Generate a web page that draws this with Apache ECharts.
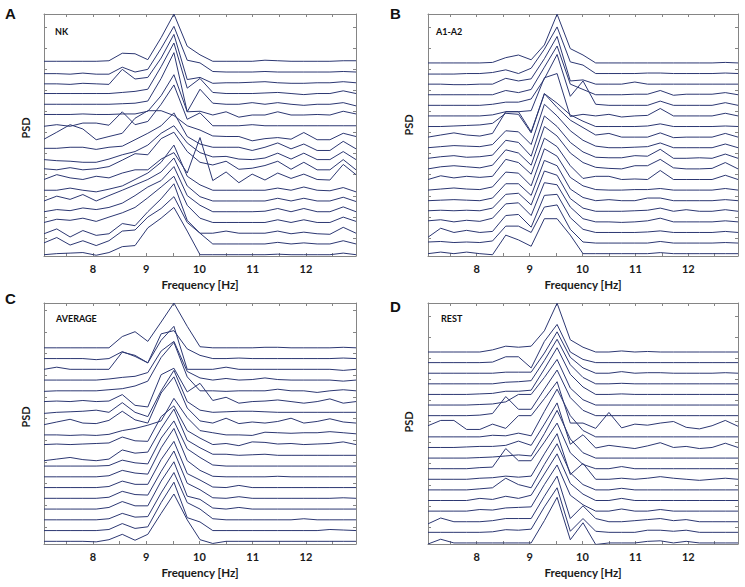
<!DOCTYPE html>
<html><head><meta charset="utf-8">
<script src="https://cdn.jsdelivr.net/npm/echarts@6/dist/echarts.min.js"></script>
<style>html,body{margin:0;padding:0;background:#fff}#chart{width:745px;height:587px}</style>
</head><body><div id="chart"></div>
<script>
// Frequency grid (Hz)
const freqs = [7.08, 7.32, 7.57, 7.81, 8.06, 8.30, 8.55, 8.79, 9.03, 9.28, 9.52, 9.77, 10.01, 10.25, 10.50, 10.74, 10.99, 11.23, 11.47, 11.72, 11.96, 12.21, 12.45, 12.70, 12.94];
const freqTicks = [7.5, 8, 8.5, 9, 9.5, 10, 10.5, 11, 11.5, 12, 12.5];
const freqLabels = [8, 9, 10, 11, 12];
const panelLetters = ['A', 'B', 'C', 'D'];
const panelNames = ['NK', 'A1-A2', 'AVERAGE', 'REST'];

// PSD traces, top trace first (values relative to each trace's own baseline, in trace-spacing units)
const nkLines = [
  [0,0,0,0,0,0.05,0.75,0.7,0.15,2.2,4.4,1.4,0.6,0,0,0,0,0.1,0.05,0,0,0,0,0.05,0.05],
  [-0.15,-0.15,-0.2,-0.1,-0.2,-0.2,0.45,0,0.25,2.2,4.25,1.1,0.85,0.05,0,0,0,0.05,0,0,0,0,0,0.05,0],
  [-0.1,-0.1,-0.15,-0.05,-0.1,-0.15,1.25,0.35,0.5,2.3,4.5,0.3,0.5,-0.05,0,0,0.05,0.1,0,-0.05,-0.05,0,0,0.1,0],
  [0,0,0,0,0,0,0.1,0.2,0.4,2.5,4.7,0.5,1.4,0.1,0,0,0,0.05,0.1,0,-0.1,0,0,0.25,0],
  [0,0,0,0,0,0,0.05,0.1,0.3,2.4,4.8,-0.7,1.4,0.1,0,0,0.15,0,0.15,0,-0.1,0,0,0.15,-0.15],
  [0.05,0.05,0.05,0.1,0.05,0.05,0.1,0.1,0.35,1.8,3.75,0.3,0.35,0,0.3,-0.2,0,0,0.3,0,0,0.05,0,0.35,0.1],
  [-0.05,0.1,-0.05,0.25,0.25,0.05,1.3,0.1,0.4,2.0,3.8,0.6,1.2,0,0,0,0.1,0,0,0,0,0,0,0,0],
  [-0.25,0.4,1.1,0.7,-0.3,0,0.3,1.7,2.4,2.4,1.95,1.0,0.6,0.05,0,0,-0.4,-0.2,-0.1,-0.25,0.37,-0.3,-0.3,0.3,0],
  [-0.1,-0.1,0,0,-0.2,0,0.1,0.7,1.3,2.0,3.2,1.0,0.3,0,0,0,-0.3,0,0.4,-0.15,0.3,-0.3,-0.3,0.55,-0.15],
  [-0.15,-0.25,-0.3,-0.4,-0.4,-0.1,0.3,0.6,1.2,2.3,3.0,1.4,0.5,0.1,0.15,-0.1,-0.15,0,0.45,-0.1,0.45,-0.15,-0.15,0.6,-0.15],
  [0,-0.1,0.1,-0.1,0,0.2,0.8,1.4,1.3,2.8,3.4,1.6,0.6,0.35,0.7,-0.05,0.05,0.3,0.7,-0.05,0.6,-0.1,-0.1,0.85,-0.1],
  [0,0.45,0.15,0,0.3,0.15,0.6,0.9,0.9,1.9,2.5,0.6,3.9,-0.1,0.7,-0.3,0.5,-0.05,0.6,0.1,0.5,0,-0.05,1.4,0.45],
  [0,0,0.2,0,-0.15,0.1,0.4,1.0,1.6,2.6,4.2,1.3,0.5,0,0,0,0,0,0.2,0,0.3,0,-0.05,0.25,-0.15],
  [0,0.45,0.15,0.6,0,0.5,1.0,1.5,2.0,2.7,4.0,1.4,0.4,0,0,0,0,0,0.25,0,0.25,0,0,0.35,-0.05],
  [0,0.2,0.1,0.35,0.2,0.4,0.8,1.5,2.3,2.9,4.2,1.5,0.6,0,0,0,0,0.05,0.3,0,0.3,0,0,0.45,0],
  [0,0.3,0.2,0.4,0.1,0.5,0.9,1.4,2.3,3.3,4.3,1.6,0.4,0,0,0,0,0,0.25,0,0.25,0,0,0.5,0.1],
  [-0.05,0.4,-0.35,0.25,-0.2,-0.05,0.9,0.7,2.0,3.2,4.6,1.2,0,0,0.2,0,0,0,0.2,-0.05,0.1,-0.05,-0.1,0.55,0],
  [0.1,0.6,-0.1,0.3,-0.15,0.3,1.2,1.3,2.5,3.3,4.4,2.0,1.0,0,0,0,0,0,0.15,0,0.1,0,0,0.3,0],
  [0,0.1,0.15,0.2,-0.05,0.2,0.75,0.85,2.5,3.4,4.4,2.2,0,0,0,0,0,0,0.05,0,0,0,0,0.15,0]
];
const a1a2Lines = [
  [0,0,0,0,0,0.05,0.5,0.75,0.3,1.7,4.6,1.35,0.75,0,0,0,0,0,0,0,0,0,0,0.05,0],
  [-0.05,-0.05,-0.05,0,0,0.1,0.35,0,0.5,2.3,4.4,1.1,0.8,0,0,0,0,0.05,0.05,0,0,0,0,0.05,0],
  [0,0,-0.05,-0.05,0,0,0.55,0.3,0.5,2.4,4.5,0.3,0.4,0,0,0,0.2,0,0,0,0,0,0,0,0],
  [0,0,0,0,0,0,0.4,0.2,0.5,2.6,4.6,1.0,0.5,0,0,0,0.05,0.05,0.4,-0.05,0.05,0.05,0.05,0.2,0],
  [0,0,0,0,0,0.1,0.3,0.3,0.6,2.5,4.8,0.85,2.3,0.1,0,0,0,0,0.4,0,0,0,0,0.25,0],
  [0,0,0,0,0,0.1,0.4,0.4,0.5,3.6,4.0,-0.05,0.15,0,0.15,-0.1,0,0.05,0.7,0,0,0,0,0.25,0],
  [0,0,0.05,0.1,0.15,0.3,1.25,1.15,-0.6,3.1,2.2,1.1,0.5,0,0,0,0,0.05,0.25,0,0,0,0,0.05,0],
  [0,0.2,0.4,0.2,0.1,0.35,2.4,2.4,0.5,4.1,2.8,1.6,0.9,0.2,0.35,0,0,0,0.4,-0.05,0,0,0,0.35,0],
  [0,0.1,0.2,0.15,0.1,0.3,1.6,1.5,0.3,4.1,3.0,1.6,0.7,0.15,0,0,0.05,0.1,0.45,0,0,0,0,0.35,0],
  [0,0.15,0.25,0.1,0.15,0.3,1.7,1.5,0.2,4.0,3.0,1.5,0.6,0.1,0.05,0.05,0.25,0.2,0.85,0,0,0.05,0,0.4,0],
  [0,0.2,0.3,0.2,0.1,0.35,1.8,1.5,0.35,4.0,3.1,1.5,0.6,0.15,0.05,0,0.3,0.3,0.9,0.1,0,0,0.05,0.6,0],
  [0,0.35,0.15,0.3,0.2,0.3,1.9,1.6,0.5,3.9,3.1,1.3,0.1,0.3,0.3,0,0.05,0,0.85,0,0,0,0,0.4,0],
  [0,0.1,0.2,0.1,0.05,0.3,1.7,1.6,0.4,3.9,3.2,1.2,0.4,0.05,0,0,0.05,0.05,0.15,0,0,0,0,0.15,0],
  [0,0.05,0.1,0.05,0,0.25,1.6,1.6,0.5,3.8,3.3,1.1,0.3,0,0.1,0,0,0.25,0.25,0,0,0,0,0.1,0],
  [0.05,0.1,0.05,0.1,0.05,0.3,1.6,1.7,0.6,3.8,3.4,1.2,0.3,0,0,0,0.05,0.1,0.3,0,0.15,0,0,0.15,0],
  [0.1,0.2,0,0.15,0.05,0.35,1.7,1.8,0.6,3.7,3.5,1.4,0.3,0,0,-0.05,0,0.1,0.35,0,0,0,0,0.1,0],
  [-0.45,0.4,0,0.2,0,0.1,1.6,1.7,0.5,3.5,3.6,1.4,0.3,0,0,0,0,0.05,0.15,0,0,0,0,0.1,0],
  [0.1,0.15,0.05,0.1,0.05,0.2,1.6,1.6,1.0,3.4,3.6,1.3,0.1,0,0,0,0,0,0.15,0,0,0,0,0.05,0],
  [0,0.15,0,0.15,0,-0.1,1.75,1.3,0.7,3.3,3.3,1.75,0,0,0,0,0,0,0.1,0,0,0,0,0,0]
];
const averageLines = [
  [0,0,0,0,0,0,1.05,1.5,0.6,2.4,4.17,2.0,0.1,0,0,0,0,0.05,0.05,0,0,0,0,0.05,0],
  [0,0,0,0,-0.1,0,0.65,0.2,-0.4,2.3,2.6,0.9,0.3,0,0,0.05,0,0,0,0,0,0,0,0.05,0],
  [0,0.2,0,0,0,0,1.6,1.3,0.6,2.7,4.0,0.0,0,0,0.2,0,0,0,0,0,0,0,0,-0.1,0],
  [0,0,0,0,0,0.1,0.25,0.35,0.7,2.7,3.6,0.8,0.2,0,0.15,0,0.05,0.2,0.05,0,0,0,0,-0.1,0],
  [-0.05,0,0,0,0,0.1,0.2,0.45,0.9,3.1,4.5,1.3,0,0,-0.05,0,0,0,0.15,0,0,-0.15,0,0.1,0],
  [0,0.05,0,0.1,0,0.05,0.65,-0.35,-0.5,2.5,3.1,0.9,1.7,0.1,0.4,-0.15,0,0.05,0.15,0,-0.15,0,0.25,-0.15,0],
  [-0.1,0,0.05,0.1,0.2,0,0.9,0,-0.4,2.0,3.9,1.0,0.2,0,0.05,0.1,0.1,0.05,0,0,0,0,0,0,0],
  [-0.15,0.1,0.35,0,-0.05,0.25,1.1,0.3,0,2.8,4.3,1.4,0.2,0,0.45,-0.05,0.1,0,0.15,0.45,0,0.15,0.4,0.1,0],
  [-0.1,-0.1,-0.15,-0.1,-0.15,-0.05,0.3,0.5,0.8,1.2,3.3,1.5,0.3,0.1,-0.1,-0.1,-0.15,0.15,0.1,0.05,0.1,0.1,0.2,0.1,0],
  [0,0.05,0,0.05,0.1,0.15,0.7,0.35,0.3,2.6,3.6,1.3,0.6,0,0.1,-0.1,0.25,0.2,0.05,0.1,0,0.05,0.1,0.25,0],
  [-0.5,-0.35,-0.2,-0.4,-0.5,-0.35,0.5,0.2,0.3,2.5,4.3,1.4,0.7,0.1,0.1,0,0.05,0.1,0,0,0,0,0,0,0],
  [0,0,0,0,0,0.05,0.55,0.3,0.2,2.6,4.2,1.6,0.8,0.1,0,0,0,0,0,0,0,0,0,0,0],
  [0,0,0,0,0,0.1,0.6,0.35,0.25,2.7,4.5,1.5,0.6,0.05,0,0,0,0,0.05,0,0,0,0,0,0],
  [0,0,0,0,0,0.1,0.6,0.3,0.3,2.6,4.3,1.3,0.7,0.05,0,0.2,0,0,0,0,0,0,0,0,0],
  [0,0,0,0,0,0.1,0.65,0.35,0.3,2.5,4.4,1.4,0.8,0.05,0,0.15,0,0,0,0,0,0,0,0.05,0],
  [0,0,0,0,0,0.15,0.7,0.3,0.3,2.6,4.4,1.2,0.9,0.1,0,0.15,0,0,0,0,0,0,0,0,0],
  [0,0,0,0,0,0.1,0.6,0.25,0.3,2.5,4.4,1.6,1.0,0.1,0,0,0,0,0,0,0.1,0,0,0,0],
  [0,0,0,0,0,0.1,0.65,0.2,0.35,2.6,4.5,1.2,0.8,0,0,0,0,0,0,0,0,0,0.1,0.05,0],
  [0,0,0,0,-0.05,0.15,0.65,0.1,0.65,2.6,4.4,2.0,0.15,-0.2,0,0,0,0,0,0,0,0,0,0,0]
];
const restLines = [
  [0,0,0,0,0,0.2,0.55,0.45,0.55,2.0,4.6,1.15,0.45,0,0,0.1,0,0.05,0,0,0,0,0,0,0],
  [0,0,0,0,0,0.05,0.55,0.55,-0.5,2.0,3.6,1.0,0.3,0,0,0,0,0,0,0,0,0,0,0,0],
  [0,0,0,0,0,0,0.1,0.1,0.1,1.9,3.9,1.5,0.5,0,0,0.15,0,0.05,0.05,0,0,0,0,0.05,0],
  [0,0,0,0,0,0,0.15,0.2,0.3,2.2,4.2,1.8,0.6,0,0,0.05,0,0,0,0,0,0,0,0,0],
  [0,0,0,0,0.05,0.1,0.3,0.3,0.4,2.4,4.4,1.9,0.7,0,0,0.05,0,0,0,0,0,0,0,0,0],
  [0,0,0,0,0.05,0.1,0.3,1.0,1.0,2.6,4.3,1.6,0.5,0,0,0,0,0,0,0,0,0,0,0,0],
  [0,0,0,0,0.05,0.2,1.8,0.6,0.6,2.5,4.3,1.7,0.5,0,0,0,0,0,0,0,0,0,0,0,0],
  [0.05,0.55,0.55,-0.3,-0.3,0.2,-0.2,1.0,1.0,2.6,4.2,0.3,0.3,-0.2,1.3,-0.15,0.2,0.1,0.3,0.45,-0.1,-0.25,0.05,0.55,0],
  [0,0,0,0,0,0.15,0.1,0.35,0.1,2.4,4.5,2.0,0.6,0,0,0,0,0,0,0,0,0,0,0,0],
  [0,0,0,0.05,0.1,0.1,0.2,0.6,0.2,2.2,4.2,0.3,1.2,-0.05,0.2,0.05,-0.1,0.15,0.45,0,0.1,-0.1,0,0.4,0],
  [0,0,0,0,0.05,0.1,0.2,0.3,0.2,2.3,4.5,1.8,0.5,0,0,0,0,0,0,0,0,0,0,0,0],
  [0,0,0,0,0.1,0.15,1.9,0.75,0.75,2.5,4.3,1.5,0.4,0,0,0.2,0,0,0,0,0,0,0,0,0],
  [0,0,0,0,0.1,0.15,0.3,0.2,0.3,2.4,4.3,0.45,1.5,0,0,0.1,0,0.1,0.25,0.1,0,-0.1,0,0.1,0],
  [0,0,0,0,0.1,0.2,1.1,0.5,0.2,2.4,4.35,1.6,0.5,0,0,0.15,0,0,0,0,0,0,0,0,0],
  [0,0,0,0,0.2,0.1,0.4,0.2,0.5,2.5,4.4,1.6,0.6,0,0,0.2,0,0,0,0,0,0,0,0,0],
  [0,0,0,0,0.15,0.1,0.3,0.35,0.4,2.5,4.35,1.5,0.6,0,0,0.2,0,0,0.15,0,0,0,0,0,0],
  [-0.2,0.35,0,0,0,0.1,0.3,0.3,0.3,2.4,4.3,0.3,1.5,0.3,0,0,0.1,0.2,0.3,0.1,0.2,0,0,0,0],
  [0,0,0,0,0,0.05,0.25,0.2,0.3,2.4,4.2,0.1,1.3,0.1,0,0,0,0.2,0.2,0.1,0.2,0,0,0,0],
  [-0.1,0.35,0,0,0,0,0,0,0,2.1,4.3,0.3,1.9,-0.15,0,0,0,0.15,0.2,0,0.15,0,0,0,0]
];

const panelData = [nkLines, a1a2Lines, averageLines, restLines];

// layout / style (not data)
const layouts = [
  {grid:{left:44, top:14, width:312, height:242}, yMin:-0.12, yMax:22.4, tick0:18, tickStep:21.1, letter:[5,13.5], name:[55,31.3], psd:[25,128]},
  {grid:{left:428, top:14, width:310, height:242}, yMin:-0.22, yMax:22.62, tick0:18, tickStep:21.1, letter:[390,13.5], name:[436,31.3], psd:[408,125]},
  {grid:{left:44, top:303, width:312, height:241}, yMin:-0.25, yMax:22.17, tick0:17, tickStep:21.67, letter:[5,298.5], name:[56,318.7], psd:[25,417]},
  {grid:{left:428, top:303, width:310, height:241}, yMin:-0.1, yMax:22.62, tick0:17, tickStep:21.1, letter:[390,306], name:[441,318.7], psd:[408,422]}
];
const frameColor = '#858585';
const lineColor = '#2c3772';
const fontFam = 'Lato, "Open Sans", sans-serif';

const chart = echarts.init(document.getElementById('chart'), null, {renderer:'svg'});
const grids = [], xAxes = [], yAxes = [], series = [], graphics = [];

layouts.forEach((L, p) => {
  grids.push(Object.assign({containLabel:false}, L.grid));
  const unit = L.grid.height / (L.yMax - L.yMin);
  const yTicks = [];
  for (let k = 0; k <= 10; k++) yTicks.push(L.yMin + (L.tick0 + k * L.tickStep) / unit);
  const xCommon = {
    gridIndex:p, type:'value', min:freqs[0], max:freqs[freqs.length-1],
    axisLine:{show:true, onZero:false, lineStyle:{color:frameColor, width:1}},
    axisTick:{show:true, inside:true, length:3, customValues:freqTicks, lineStyle:{color:frameColor}},
    splitLine:{show:false}
  };
  xAxes.push(Object.assign({}, xCommon, {
    position:'bottom',
    axisLabel:{show:true, customValues:freqLabels, margin:7, fontFamily:fontFam, fontWeight:'bold', fontSize:11, color:'#1a1a1a'},
    name:'Frequency [Hz]', nameLocation:'middle', nameGap:22,
    nameTextStyle:{fontFamily:fontFam, fontWeight:'bold', fontSize:11.5, color:'#1a1a1a'}
  }));
  xAxes.push(Object.assign({}, xCommon, {position:'top', axisLabel:{show:false}}));
  const yCommon = {
    gridIndex:p, type:'value', min:L.yMin, max:L.yMax,
    axisLine:{show:true, onZero:false, lineStyle:{color:frameColor, width:1}},
    axisTick:{show:true, inside:true, length:3, customValues:yTicks, lineStyle:{color:frameColor}},
    axisLabel:{show:false}, splitLine:{show:false}
  };
  yAxes.push(Object.assign({}, yCommon, {position:'left'}));
  yAxes.push(Object.assign({}, yCommon, {position:'right'}));

  const lines = panelData[p];
  const n = lines.length;
  lines.forEach((vals, i) => {
    const offset = n - 1 - i;
    series.push({
      type:'line', xAxisIndex:p*2, yAxisIndex:p*2, showSymbol:false, symbol:'none',
      animation:false, silent:true, clip:true,
      lineStyle:{color:lineColor, width:1},
      data: freqs.map((f, k) => [f, offset + vals[k]])
    });
  });

  graphics.push({type:'text', x:L.letter[0], y:L.letter[1],
    style:{text:panelLetters[p], fill:'#111', font:'bold 15px "Liberation Sans", Arial, sans-serif', textVerticalAlign:'middle', verticalAlign:'middle'}});
  graphics.push({type:'text', x:L.name[0], y:L.name[1],
    style:{text:panelNames[p], fill:'#111', font:'bold 9px ' + fontFam, textVerticalAlign:'middle', verticalAlign:'middle'}});
  graphics.push({type:'text', x:L.psd[0], y:L.psd[1], rotation:Math.PI/2,
    style:{text:'PSD', fill:'#1a1a1a', font:'bold 11px ' + fontFam, textAlign:'center', align:'center', textVerticalAlign:'middle', verticalAlign:'middle'}});
});

chart.setOption({
  backgroundColor:'#ffffff',
  animation:false,
  grid:grids, xAxis:xAxes, yAxis:yAxes, series:series, graphic:graphics
});
</script></body></html>
